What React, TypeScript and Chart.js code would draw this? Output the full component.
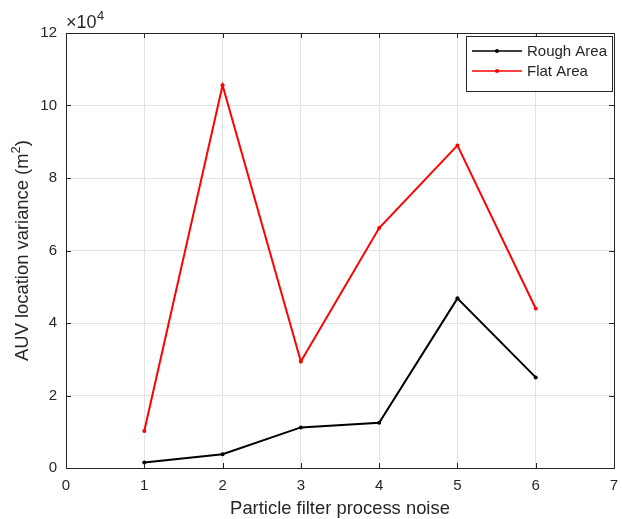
import React, { useEffect, useRef } from "react";
import { Chart, registerables } from "chart.js";

Chart.register(...registerables);

const xValues = [1, 2, 3, 4, 5, 6];
const roughArea = [1500, 3800, 11200, 12500, 46800, 25000];
const flatArea = [10200, 105600, 29400, 66200, 89000, 44000];
const seriesNames = ["Rough Area", "Flat Area"];
const seriesColors = ["#000000", "#ff0000"];
const xTitle = "Particle filter process noise";
const yTitle = "AUV location variance (m";
const xTicks = [0, 1, 2, 3, 4, 5, 6, 7];
const yTicks = [0, 20000, 40000, 60000, 80000, 100000, 120000];

const FONT = "'Liberation Sans', Arial, Helvetica, sans-serif";
const AXIS_COLOR = "#262626";

const matlabPlugin = {
  id: "matlabDecor",
  afterDatasetsDraw(chart: any) {
    const { ctx, chartArea: a, scales } = chart;
    const xs = scales.x;
    const ys = scales.y;
    ctx.save();
    // box
    ctx.strokeStyle = AXIS_COLOR;
    ctx.lineWidth = 1;
    ctx.strokeRect(Math.round(a.left) + 0.5, Math.round(a.top) + 0.5, Math.round(a.right - a.left), Math.round(a.bottom - a.top));
    // inward ticks
    const tl = 5;
    ctx.beginPath();
    xTicks.forEach((v) => {
      const px = Math.round(xs.getPixelForValue(v)) + 0.5;
      ctx.moveTo(px, a.bottom);
      ctx.lineTo(px, a.bottom - tl);
      ctx.moveTo(px, a.top);
      ctx.lineTo(px, a.top + tl);
    });
    yTicks.forEach((v) => {
      const py = Math.round(ys.getPixelForValue(v)) + 0.5;
      ctx.moveTo(a.left, py);
      ctx.lineTo(a.left + tl, py);
      ctx.moveTo(a.right, py);
      ctx.lineTo(a.right - tl, py);
    });
    ctx.stroke();

    // exponent label
    ctx.fillStyle = AXIS_COLOR;
    ctx.textBaseline = "alphabetic";
    ctx.textAlign = "left";
    ctx.font = `18px ${FONT}`;
    const base = "\u00d710";
    ctx.fillText(base, a.left, 28);
    const bw = ctx.measureText(base).width;
    ctx.font = `13px ${FONT}`;
    ctx.fillText("4", a.left + bw + 0.5, 20);

    // x title
    ctx.font = `18.4px ${FONT}`;
    ctx.textAlign = "center";
    ctx.textBaseline = "middle";
    ctx.fillText(xTitle, (a.left + a.right) / 2, 509);

    // y title (rotated) with superscript
    ctx.save();
    ctx.translate(22, (a.top + a.bottom) / 2);
    ctx.rotate(-Math.PI / 2);
    ctx.font = `18.4px ${FONT}`;
    const w1 = ctx.measureText(yTitle).width;
    ctx.font = `13px ${FONT}`;
    const w2 = ctx.measureText("2").width;
    ctx.font = `18.4px ${FONT}`;
    const w3 = ctx.measureText(")").width;
    const total = w1 + w2 + w3;
    const x0 = -total / 2;
    ctx.textAlign = "left";
    ctx.textBaseline = "alphabetic";
    ctx.fillText(yTitle, x0, 6);
    ctx.font = `13px ${FONT}`;
    ctx.fillText("2", x0 + w1, -2);
    ctx.font = `18.4px ${FONT}`;
    ctx.fillText(")", x0 + w1 + w2, 6);
    ctx.restore();

    // legend
    const lx = 466.5, ly = 36.5, lw = 146, lh = 55;
    ctx.fillStyle = "#ffffff";
    ctx.fillRect(lx, ly, lw, lh);
    ctx.strokeStyle = AXIS_COLOR;
    ctx.lineWidth = 1;
    ctx.strokeRect(lx, ly, lw, lh);
    const rows = [51, 71];
    seriesNames.forEach((name, i) => {
      const y = rows[i];
      ctx.strokeStyle = seriesColors[i];
      ctx.lineWidth = 1.5;
      ctx.beginPath();
      ctx.moveTo(472, y);
      ctx.lineTo(522, y);
      ctx.stroke();
      ctx.fillStyle = seriesColors[i];
      ctx.beginPath();
      ctx.arc(497, y, 2, 0, Math.PI * 2);
      ctx.fill();
      ctx.fillStyle = AXIS_COLOR;
      ctx.font = `15px ${FONT}`;
      ctx.textAlign = "left";
      ctx.textBaseline = "middle";
      ctx.fillText(name, 527, y + 1);
    });
    ctx.restore();
  },
};

export default function App() {
  const ref = useRef<HTMLCanvasElement | null>(null);
  useEffect(() => {
    document.body.style.margin = "0";
    const canvas = ref.current!;
    const mk = (vals: number[]) => xValues.map((x, i) => ({ x, y: vals[i] }));
    const chart = new Chart(canvas, {
      type: "line",
      data: {
        datasets: [
          {
            label: seriesNames[0],
            data: mk(roughArea),
            borderColor: seriesColors[0],
            backgroundColor: seriesColors[0],
            borderWidth: 2,
            pointRadius: 2,
            pointBorderWidth: 0,
            tension: 0,
          },
          {
            label: seriesNames[1],
            data: mk(flatArea),
            borderColor: seriesColors[1],
            backgroundColor: seriesColors[1],
            borderWidth: 2,
            pointRadius: 2,
            pointBorderWidth: 0,
            tension: 0,
          },
        ],
      },
      options: {
        animation: false,
        responsive: false,
        devicePixelRatio: 1,
        layout: { padding: { left: 0, top: 33, right: 8, bottom: 0 } },
        plugins: { legend: { display: false }, tooltip: { enabled: false } },
        scales: {
          x: {
            type: "linear",
            min: 0,
            max: 7,
            afterFit: (s: any) => { s.height = 51; s.paddingRight = 0; },
            afterBuildTicks: (s: any) => { s.ticks = xTicks.map((v) => ({ value: v })); },
            ticks: {
              stepSize: 1,
              padding: 9,
              color: AXIS_COLOR,
              font: { family: FONT, size: 15 },
              maxRotation: 0,
            },
            grid: { color: "#e3e3e3", drawTicks: false, lineWidth: 1 },
            border: { display: false },
          },
          y: {
            type: "linear",
            min: 0,
            max: 120000,
            afterFit: (s: any) => { s.width = 66; },
            afterBuildTicks: (s: any) => { s.ticks = yTicks.map((v) => ({ value: v })); },
            ticks: {
              padding: 9,
              color: AXIS_COLOR,
              font: { family: FONT, size: 15 },
              callback: (v: any) => String(Number(v) / 10000),
            },
            grid: { color: "#e3e3e3", drawTicks: false, lineWidth: 1 },
            border: { display: false },
          },
        },
      },
      plugins: [matlabPlugin],
    } as any);
    return () => chart.destroy();
  }, []);
  return (
    <div style={{ position: "fixed", left: 0, top: 0, width: 622, height: 519, background: "#fff" }}>
      <canvas ref={ref} width={622} height={519} style={{ width: 622, height: 519 }} />
    </div>
  );
}
